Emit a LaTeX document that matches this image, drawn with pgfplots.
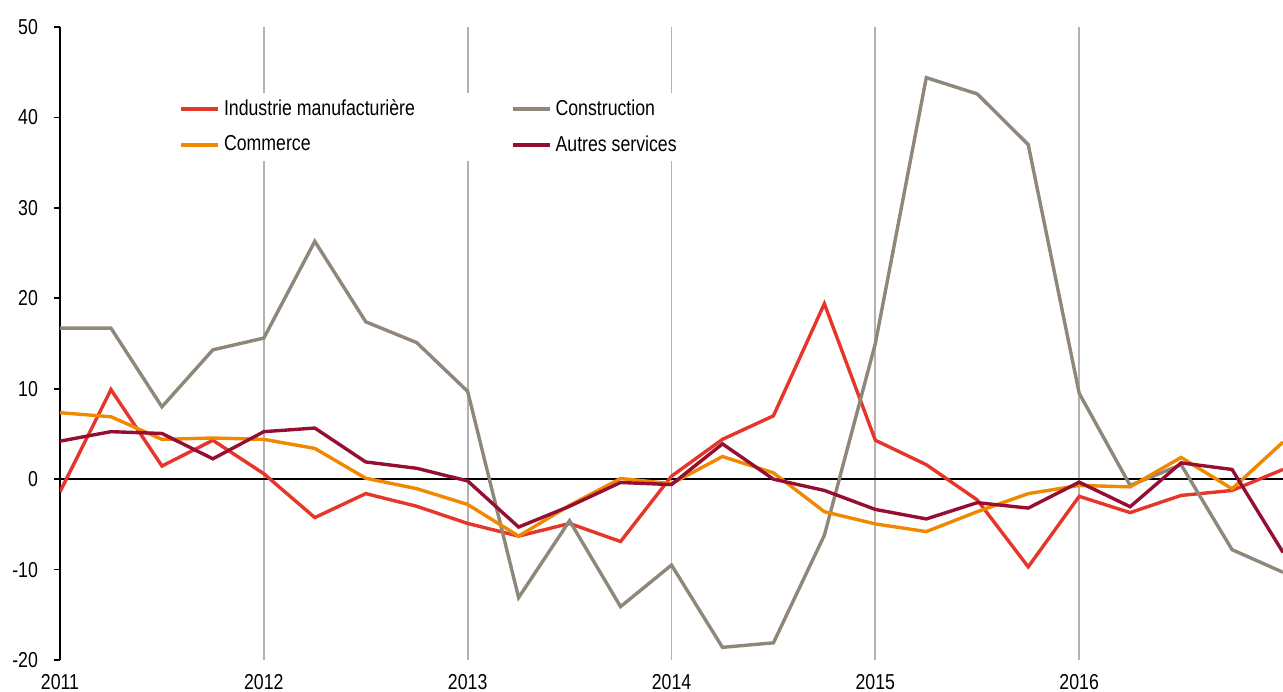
\documentclass[border=0pt]{standalone}
\usepackage{pgfplots}
\pgfplotsset{compat=1.18}
\usepackage{fontspec}
\setmainfont[FakeStretch=0.82]{Liberation Sans}
\definecolor{cInd}{RGB}{230,54,42}
\definecolor{cCom}{RGB}{240,136,0}
\definecolor{cCon}{RGB}{142,135,122}
\definecolor{cAut}{RGB}{150,14,50}
\begin{document}
\begin{tikzpicture}
\begin{axis}[
  scale only axis,
  width=611.5pt, height=316.5pt,
  xmin=0, xmax=24, ymin=-20, ymax=50,
  axis x line=bottom, axis y line=left,
  x axis line style={draw=none, -},
  y axis line style={black, line width=1pt, -},
  xtick={0,4,8,12,16,20},
  xticklabels={2011,2012,2013,2014,2015,2016},
  ytick={-20,-10,0,10,20,30,40,50},
  tick align=outside,
  major tick length=3pt,
  xtick style={draw=none},
  ytick style={black, line width=0.8pt},
  /pgf/number format/assume math mode=true,
  font=\fontsize{10.8}{12}\selectfont,
  tick label style={font=\fontsize{10.8}{12}\selectfont},
  yticklabel style={xshift=-4.5pt},
  xticklabel style={yshift=-0.5pt},
  xmajorgrids, ymajorgrids=false,
  grid style={color=black!30, line width=0.9pt},
  clip=true,
  legend columns=2,
  legend cell align=left,
  legend style={at={(axis cs:2.1,42.8)}, anchor=north west, draw=none, fill=white,
    inner xsep=6pt, inner ysep=1.5pt, row sep=4.5pt,
    font=\fontsize{10.8}{12}\selectfont,
    /tikz/every even column/.append style={column sep=46pt}},
  legend image code/.code={\draw[#1, line width=1.8pt] (0pt,0pt) -- (18.5pt,0pt);},
]
\addplot[black, line width=0.9pt, forget plot] coordinates {(0,0) (24,0)};
\addplot[cInd, line width=1.7pt] coordinates {
(0,-1.4) (1,9.9) (2,1.45) (3,4.3) (4,0.6) (5,-4.25) (6,-1.6) (7,-3.0) (8,-4.9)
(9,-6.3) (10,-4.9) (11,-6.9) (12,0.33) (13,4.4) (14,7.0) (15,19.4) (16,4.3)
(17,1.6) (18,-2.3) (19,-9.7) (20,-1.9) (21,-3.7) (22,-1.8) (23,-1.25) (24,1.07)};
\addlegendentry{Industrie manufacturière}
\addplot[cCon, line width=1.7pt] coordinates {
(0,16.7) (1,16.7) (2,8.0) (3,14.3) (4,15.6) (5,26.3) (6,17.4) (7,15.1) (8,9.7)
(9,-13.1) (10,-4.6) (11,-14.1) (12,-9.5) (13,-18.6) (14,-18.1) (15,-6.2) (16,15.0)
(17,44.4) (18,42.6) (19,37.0) (20,9.5) (21,-0.7) (22,1.6) (23,-7.8) (24,-10.3)};
\addlegendentry{Construction}
\addplot[cCom, line width=1.7pt] coordinates {
(0,7.35) (1,6.9) (2,4.4) (3,4.55) (4,4.4) (5,3.4) (6,0.1) (7,-1.05) (8,-2.8)
(9,-6.3) (10,-2.9) (11,0.07) (12,-0.5) (13,2.5) (14,0.7) (15,-3.6) (16,-4.95)
(17,-5.8) (18,-3.6) (19,-1.6) (20,-0.7) (21,-0.85) (22,2.4) (23,-1.07) (24,4.1)};
\addlegendentry{Commerce}
\addplot[cAut, line width=1.7pt] coordinates {
(0,4.2) (1,5.25) (2,5.05) (3,2.25) (4,5.25) (5,5.65) (6,1.9) (7,1.2) (8,-0.2)
(9,-5.3) (10,-3.0) (11,-0.37) (12,-0.6) (13,3.9) (14,0) (15,-1.25) (16,-3.35)
(17,-4.4) (18,-2.6) (19,-3.2) (20,-0.33) (21,-3.05) (22,1.8) (23,1.07) (24,-8.1)};
\addlegendentry{Autres services}
\end{axis}
\pgfresetboundingbox
\useasboundingbox (-30pt,-15.5pt) rectangle (611.5pt,330pt);
\end{tikzpicture}
\end{document}
